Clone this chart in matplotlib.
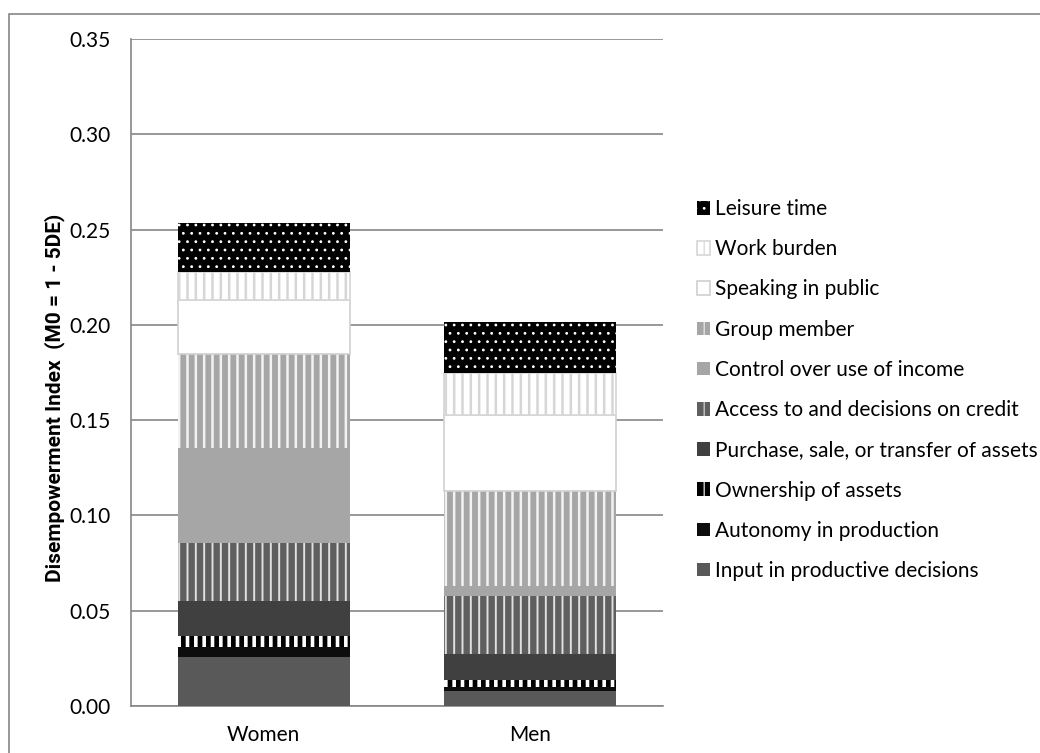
import matplotlib
matplotlib.use("Agg")
import matplotlib.pyplot as plt
from matplotlib.patches import Rectangle
import numpy as np

plt.rcParams['font.family'] = ['Lato', 'DejaVu Sans']

categories = ["Women", "Men"]
indicators = [
    "Input in productive decisions",
    "Autonomy in production",
    "Ownership of assets",
    "Purchase, sale, or transfer of assets",
    "Access to and decisions on credit",
    "Control over use of income",
    "Group member",
    "Speaking in public",
    "Work burden",
    "Leisure time",
]
women = [0.0257, 0.0051, 0.0060, 0.0185, 0.0304, 0.0496, 0.0495, 0.0284, 0.0145, 0.0259]
men = [0.0079, 0.0021, 0.0037, 0.0135, 0.0307, 0.0049, 0.0500, 0.0398, 0.0223, 0.0265]

# style per indicator: (face, hatch, hatch colour, edge lw, edge colour, hatch lw)
styles = [
    ("#595959", None, "#595959", 0, None, 1.0),
    ("#0d0d0d", None, "#0d0d0d", 0, None, 1.0),
    ("#000000", "||", "#ffffff", 0, None, 2.6),
    ("#404040", None, "#404040", 0, None, 1.0),
    ("#5f5f5f", "||", "#e0e0e0", 0, None, 1.4),
    ("#a6a6a6", None, "#a6a6a6", 0, None, 1.0),
    ("#a6a6a6", "||", "#f2f2f2", 0, None, 1.8),
    ("#ffffff", None, "#d0d0d0", 1.2, "#d0d0d0", 1.0),
    ("#ffffff", "||", "#d6d6d6", 1.2, "#d6d6d6", 1.8),
    ("#000000", "..", "#ffffff", 0, None, 0.8),
]

W, H = 1040, 753
FS = 15
fig = plt.figure(figsize=(W / 100, H / 100), dpi=100)
ax = fig.add_axes([130.7 / W, 1 - 706 / H, (663 - 130.7) / W, (706 - 39) / H])

x = np.arange(len(categories))
vals = np.array([women, men])
bottom = np.zeros(len(categories))
handles = []
for i, name in enumerate(indicators):
    face, hatch, hcol, elw, ecol, hlw = styles[i]
    if hatch is not None:
        plt.rcParams['hatch.linewidth'] = hlw
    bars = ax.bar(x, vals[:, i], bottom=bottom, width=0.647, color=face,
                  edgecolor=hcol, hatch=hatch, linewidth=elw, label=name, zorder=3)
    for b in bars:
        if hasattr(b, "set_hatch_linewidth"):
            b.set_hatch_linewidth(hlw)
    handles.append(bars)
    bottom = bottom + vals[:, i]

ax.set_xlim(-0.5, 1.5)
ax.set_ylim(0, 0.35)
ax.set_yticks(np.arange(0, 0.351, 0.05))
ax.set_yticklabels([f"{v:.2f}" for v in np.arange(0, 0.351, 0.05)])
ax.set_xticks(x)
ax.set_xticklabels(categories)
ax.tick_params(axis='both', length=0, labelsize=FS, colors="#000000")
ax.tick_params(axis='y', pad=14.4)
ax.tick_params(axis='x', pad=14)
ax.yaxis.grid(True, color="#868686", linewidth=1.2, zorder=0)
ax.set_axisbelow(True)
for s in ["top", "right"]:
    ax.spines[s].set_visible(False)
for s in ["left", "bottom"]:
    ax.spines[s].set_color("#868686")
    ax.spines[s].set_linewidth(1.2)

fig.text(55 / W, 1 - 398 / H, "Disempowerment Index  (M0 = 1 - 5DE)", rotation=90,
         ha="center", va="center", fontsize=15, fontweight="bold",
         family=["Roboto", "DejaVu Sans"])

leg = fig.legend(handles[::-1], indicators[::-1], loc="center left",
                 bbox_to_anchor=(697 / W, 1 - 390 / H), frameon=False,
                 fontsize=FS, handlelength=0.63, handleheight=0.63,
                 handletextpad=0.22, labelspacing=0.97, borderpad=0, borderaxespad=0)

fig.patches.append(Rectangle((9 / W, -0.1), 1.2, (753 - 14) / H + 0.1,
                             transform=fig.transFigure, fill=False,
                             edgecolor="#868686", linewidth=1.2))

fig.savefig("out.png", dpi=100)
